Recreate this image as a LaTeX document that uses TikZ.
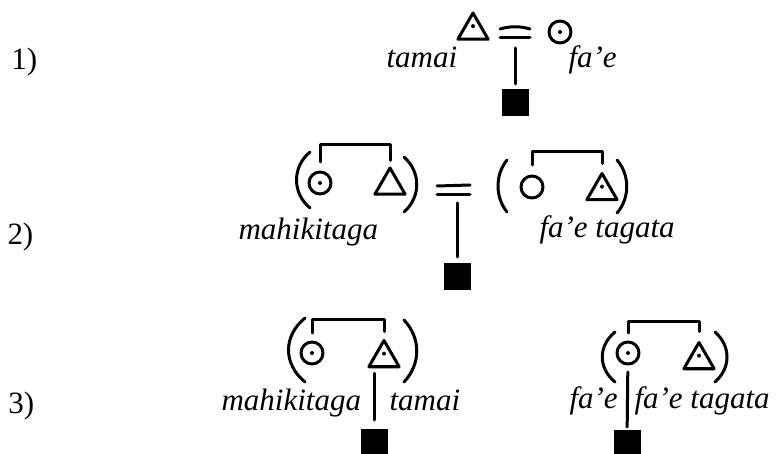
\documentclass[tikz,border=0pt]{standalone}
\usepackage{fontspec}
\setmainfont{Liberation Serif}
\usetikzlibrary{shapes.geometric}
\tikzstyle{trait} = [line width=3pt, line cap=round, line join=round]
\tikzstyle{homme} = [trait, draw, regular polygon, regular polygon sides=3, minimum size=35pt, inner sep=0pt]
\tikzstyle{femme} = [trait, draw, circle, minimum size=22pt, inner sep=0pt]
\tikzstyle{ego} = [fill, rectangle, minimum size=27pt, inner sep=0pt]
\tikzstyle{pointe} = [path picture={\fill (path picture bounding box.center) circle (2pt);}]
\tikzstyle{nom} = [anchor=base west, inner sep=0pt, font=\fontsize{31}{37}\selectfont\itshape]
\tikzstyle{numero} = [anchor=base west, inner sep=0pt, font=\fontsize{31}{37}\selectfont]

\begin{document}
\begin{tikzpicture}[x=1pt, y=-1pt, trait]
	\useasboundingbox (0,0) rectangle (782,454);

	% 1)
	\node[numero] (N1) at (10,70) {1)};
	\node[homme, pointe] (T1) at (473,30.5) {};
	\node[femme, pointe] (F1) at (560,32) {};
	\node[ego] (E1) at (515,103) {};
	\node[nom] (tamai1) at (385,68) {tamai};
	\node[nom] (fae1) at (567,68) {fa’e};
	\draw (500,29) .. controls (510,26) and (520,26) .. (530,29);
	\draw (500,38) -- (530,38);
	\coordinate (Q1) at (515,48);
	\draw[shorten >=4pt] (Q1) -- (E1);

	% 2)
	\node[numero] (N2) at (6,245) {2)};
	\node[femme, pointe] (F2a) at (320,183) {};
	\node[homme] (M2a) at (390,185.5) {};
	\node[femme] (F2b) at (532,187) {};
	\node[homme, pointe] (M2b) at (602,191) {};
	\node[ego] (E2) at (457,277) {};
	\node[nom] (mahi2) at (237,240) {mahikitaga};
	\node[nom] (faet2) at (538,238) {fa’e tagata};
	\draw ([yshift=8.5pt]F2a.north) -- ([yshift=25.5pt]F2a.north) -| ([yshift=4.5pt]M2a.north);
	\draw ([yshift=9.5pt]F2b.north) -- ([yshift=22.5pt]F2b.north) -| ([yshift=7pt]M2b.north);
	\draw (310,152) .. controls +(-18,15) and +(-18,-15) .. (310,208);
	\draw (404,157) .. controls +(17,15) and +(17,-15) .. (404,212);
	\draw (507,160) .. controls +(-12,15) and +(-12,-15) .. (507,212);
	\draw (617,160) .. controls +(13,15) and +(13,-15) .. (617,213);
	\draw (437,186) -- (470,185);
	\draw (437,195) -- (470,195);
	\coordinate (Q2) at (457,203);
	\draw[shorten >=5pt] (Q2) -- (E2);

	% 3)
	\node[numero] (N3) at (7,413) {3)};
	\node[femme, pointe] (F3a) at (312,353) {};
	\node[homme, pointe] (M3a) at (384,358) {};
	\node[femme, pointe] (F3b) at (628,353) {};
	\node[homme, pointe] (M3b) at (699,360) {};
	\node[ego] (E3a) at (374,442) {};
	\node[ego] (E3b) at (627,443) {};
	\node[nom] (mahi3) at (220,410) {mahikitaga};
	\node[nom] (tamai3) at (388,410) {tamai};
	\node[nom] (fae3) at (568,408) {fa’e};
	\node[nom] (faet3) at (633,408) {fa’e tagata};
	\draw ([yshift=7.5pt]F3a.north) -- ([yshift=20.5pt]F3a.north) -| ([yshift=6pt]M3a.north);
	\draw ([yshift=7.5pt]F3b.north) -- ([yshift=18.5pt]F3b.north) -| ([yshift=8pt]M3b.north);
	\draw (305,318) .. controls +(-22,18) and +(-22,-18) .. (305,382);
	\draw (404,320) .. controls +(17,18) and +(17,-18) .. (404,382);
	\draw (615,332) .. controls +(-17,14) and +(-17,-14) .. (615,382);
	\draw (715,332) .. controls +(16,14) and +(16,-14) .. (715,382);
	\draw[shorten <=5pt, shorten >=7pt] (M3a.south -| E3a.north) -- (E3a.north);
	\draw[shorten <=6.5pt, shorten >=1pt] (F3b) -- (E3b);

\end{tikzpicture}
\end{document}
